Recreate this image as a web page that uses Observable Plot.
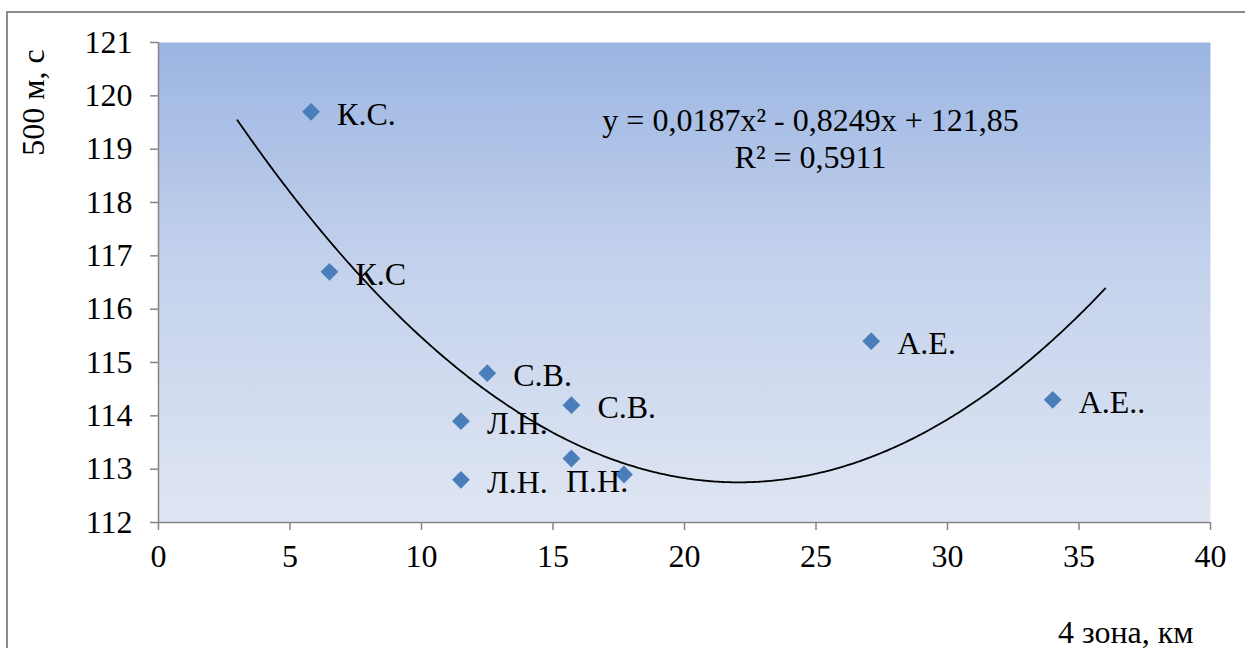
<!DOCTYPE html>
<html>
<head>
<meta charset="utf-8">
<script src="https://cdn.jsdelivr.net/npm/d3@7"></script>
<script src="https://cdn.jsdelivr.net/npm/@observablehq/plot@0.6"></script>
<style>
  html, body { margin: 0; padding: 0; background: #fff; }
  #wrap { position: relative; width: 1245px; height: 648px; overflow: hidden; }
  #border { position: absolute; left: 6px; top: 11px; right: -5px; bottom: -5px;
            border-left: 2px solid #8c8c8c; border-top: 2px solid #8c8c8c; pointer-events: none; }
</style>
</head>
<body>
<div id="wrap"><div id="border"></div></div>
<script>
// ---- data ----
const distanceKm = [5.8, 6.5, 12.5, 15.7, 11.5, 11.5, 15.7, 17.7, 27.1, 34.0];
const time500m   = [119.7, 116.7, 114.8, 114.2, 113.9, 112.8, 113.2, 112.9, 115.4, 114.3];
const names      = ["К.С.", "К.С", "С.В.", "С.В.", "Л.Н.", "Л.Н.", "", "П.Н.", "А.Е.", "А.Е.."];
const xTicks = [0, 5, 10, 15, 20, 25, 30, 35, 40];
const yTicks = [112, 113, 114, 115, 116, 117, 118, 119, 120, 121];
// polynomial trendline shown on the chart: y = a x^2 + b x + c
const trendCoef = [0.0187, -0.8249, 121.85];
const trendR2 = 0.5911;
const trendRange = [3, 36];
const xTitle = "4 зона, км";
const yTitle = "500 м, с";

const points = distanceKm.map((x, i) => ({x, y: time500m[i], name: names[i]}));
const fmt = v => String(v).replace(".", ",");
const [a, b, c] = trendCoef;
const trend = d3.range(trendRange[0], trendRange[1] + 1e-9, 0.1).map(x => ({x, y: a * x * x + b * x + c}));
const eqText = `y = ${fmt(a)}x² - ${fmt(-b)}x + ${fmt(c)}\nR² = ${fmt(trendR2)}`;

const font = "Liberation Serif, Times New Roman, serif";
const axisGray = "#868686";
const fs = 32;

const chart = Plot.plot({
  width: 1245,
  height: 648,
  marginLeft: 158,
  marginRight: 35,
  marginTop: 42,
  marginBottom: 126,
  style: {fontFamily: font, fontSize: fs + "px", background: "transparent", color: "#000"},
  x: {domain: [0, 40]},
  y: {domain: [112, 121]},
  marks: [
    Plot.frame({fill: "url(#bgGrad)", stroke: "none"}),
    Plot.ruleX([0], {stroke: axisGray, strokeWidth: 1.5}),
    Plot.ruleY([112], {stroke: axisGray, strokeWidth: 1.5}),
    Plot.axisX(xTicks, {tickSize: 8, tickPadding: 14, stroke: axisGray, strokeWidth: 1.5, fill: "#000", fontSize: fs, label: null, tickFormat: d => String(d)}),
    Plot.axisY(yTicks, {tickSize: 8, tickPadding: 18, stroke: axisGray, strokeWidth: 1.5, fill: "#000", fontSize: fs, label: null, tickFormat: d => String(d)}),
    Plot.line(trend, {x: "x", y: "y", stroke: "#000", strokeWidth: 1.8, curve: "natural"}),
    Plot.dot(points, {x: "x", y: "y", symbol: "diamond2", r: 8, fill: "#4a7ebb", stroke: "none"}),
    Plot.text(points.filter(d => d.name && d.name !== "П.Н."), {x: "x", y: "y", text: "name", textAnchor: "start", dx: 26, dy: 3, fontSize: fs, fill: "#000"}),
    Plot.text(points.filter(d => d.name === "П.Н."), {x: "x", y: "y", text: "name", textAnchor: "start", dx: -58, dy: 7, fontSize: fs, fill: "#000"}),
    Plot.text([eqText], {frameAnchor: "top", dx: 126, dy: 62, fontSize: fs, fill: "#000", lineHeight: 1.16, lineAnchor: "top"}),
    Plot.text([yTitle], {frameAnchor: "left", textAnchor: "middle", dx: -125, dy: -180, rotate: -90, fontSize: fs, fill: "#000"}),
    Plot.text([xTitle], {frameAnchor: "bottom-right", dx: -17, dy: 120, textAnchor: "end", fontSize: fs, fill: "#000", lineAnchor: "bottom"})
  ]
});

// gradient for plot area
const svg = d3.select(chart);
const defs = svg.insert("defs", ":first-child");
const g = defs.append("linearGradient").attr("id", "bgGrad").attr("x1", 0).attr("y1", 0).attr("x2", 0).attr("y2", 1);
g.append("stop").attr("offset", "0%").attr("stop-color", "#9bb5e2");
g.append("stop").attr("offset", "45%").attr("stop-color", "#c3d1ec");
g.append("stop").attr("offset", "100%").attr("stop-color", "#dfe6f3");
svg.style("position", "absolute").style("left", "0").style("top", "0").style("overflow", "visible");

document.getElementById("wrap").appendChild(chart);
</script>
</body>
</html>
